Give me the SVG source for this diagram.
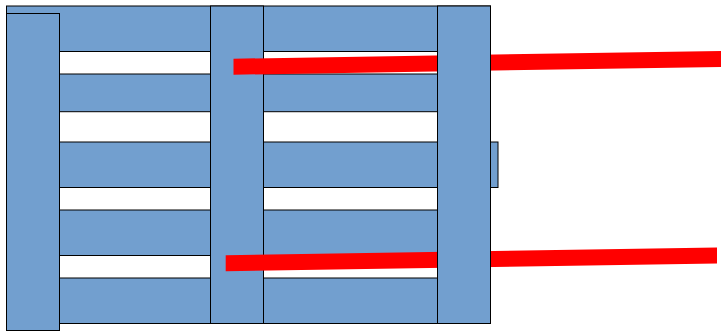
<svg xmlns="http://www.w3.org/2000/svg" width="721" height="331" viewBox="0 0 721 331">
<style>
.p{fill:#729fcf;stroke:#000;stroke-width:1}
.r{fill:#f00;stroke:none}
</style>
<rect width="721" height="331" fill="#fff"/>
<g id="slat-1"><rect class="p" x="6.5" y="6" width="484" height="45.5"/></g>
<g id="slat-2"><rect class="p" x="6.5" y="74" width="484" height="37.7"/></g>
<g id="slat-3"><rect class="p" x="6.5" y="142" width="491.5" height="45.5"/></g>
<g id="slat-4"><rect class="p" x="6.5" y="210" width="484" height="45.5"/></g>
<g id="slat-5"><rect class="p" x="6.5" y="278" width="484" height="45.5"/></g>
<g id="beam-left"><rect class="p" x="6.5" y="13.5" width="53" height="317"/></g>
<g id="beam-middle"><rect class="p" x="210.5" y="6" width="53" height="317.5"/></g>
<g id="bar-top"><polygon class="r" points="233.5,58.7 721,51 721,67 233.5,74.7"/></g>
<g id="bar-bottom"><polygon class="r" points="225.7,255.2 717,247.4 717,263.4 225.7,271.2"/></g>
<g id="beam-right"><rect class="p" x="437.5" y="6" width="53" height="317.5"/></g>
</svg>
